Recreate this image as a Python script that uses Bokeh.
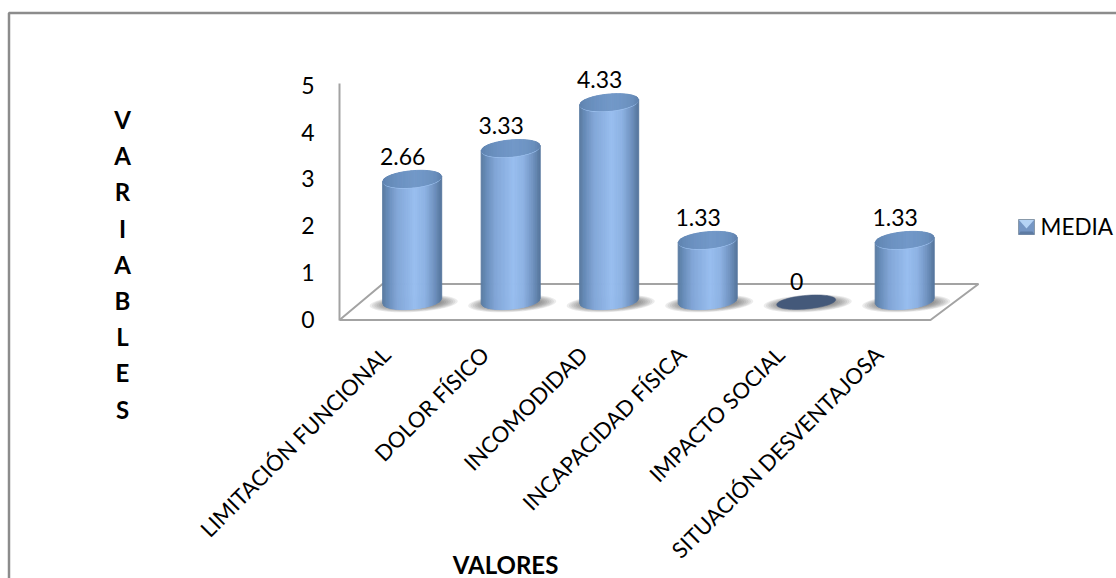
import numpy as np
from bokeh.core.properties import value
from bokeh.embed import file_html
from bokeh.models import FixedTicker, Range1d
from bokeh.plotting import figure
from bokeh.resources import INLINE

# Chart content
categories = ["LIMITACIÓN FUNCIONAL", "DOLOR FÍSICO", "INCOMODIDAD",
              "INCAPACIDAD FÍSICA", "IMPACTO SOCIAL", "SITUACIÓN DESVENTAJOSA"]
media = [2.66, 3.33, 4.33, 1.33, 0, 1.33]
value_labels = ["2.66", "3.33", "4.33", "1.33", "0", "1.33"]
y_ticks = [0, 1, 2, 3, 4, 5]
y_title = list("VARIABLES")
x_title = "VALORES"
series_name = "MEDIA"

# Page geometry of the plotting scales
W, H = 1116, 578
FIRST_X, STEP_X = 411.7, 98.5     # centre of first cylinder, cylinder spacing
ZERO_Y, UNIT_Y = 318.5, 46.7      # pixel row of value 0, pixels per unit


def X(px):
    return (np.asarray(px, dtype=float) - FIRST_X) / STEP_X


def Y(py):
    return (ZERO_Y - np.asarray(py, dtype=float)) / UNIT_Y


FONT = value("Lato")
GRID = "#a3a3a3"
INK = "#000000"

p = figure(width=W, height=H, output_backend="svg", toolbar_location=None,
           x_range=Range1d(float(X(0)), float(X(W))),
           y_range=Range1d(float(Y(H)), float(Y(0))),
           min_border=0, outline_line_color=None, background_fill_color="white",
           border_fill_color="white")
p.grid.visible = False
p.xaxis.visible = False

# Value axis, placed inside the frame on the floor's left corner
yaxis = p.yaxis[0]
yaxis.fixed_location = float(X(339))
yaxis.ticker = FixedTicker(ticks=y_ticks)
yaxis.bounds = (-0.03, 5.04)
yaxis.axis_line_color = GRID
yaxis.axis_line_width = 2
yaxis.major_tick_line_color = None
yaxis.minor_tick_line_color = None
yaxis.major_label_standoff = 19
yaxis.major_label_text_font = "Lato"
yaxis.major_label_text_font_size = "23px"
yaxis.major_label_text_color = INK

# Outer chart border: only top and left edges are in view
p.line(X([8.5, 8.5, W]), Y([H, 12.5, 12.5]), line_color="#8c8c8c", line_width=2.5)

# Perspective floor
p.line(X([339, 382, 978, 930, 339]), Y([319.5, 283.5, 283.5, 319.5, 319.5]),
       line_color=GRID, line_width=2)

HALF_W = 29.5         # cylinder half width in px
HALF_D = 8.2          # ellipse half depth in px
TILT = 0.085          # rise of the ellipse towards the right
BASE_Y = 300.5        # pixel row of the cylinder base centre
BAR_UNIT = 45.9       # pixels per unit at the cylinders' depth
SLICES = 44

STOPS_T = [-1.0, -0.82, -0.5, 0.1, 0.45, 0.8, 1.0]
BODY = ["#587a9f", "#678bb8", "#82a6d7", "#98beef", "#8db2e3", "#6d8fbc", "#56769c"]
CAP = ["#5f83af", "#6489b6", "#6c91c0", "#7298c8", "#7096c5", "#6a8fbd", "#5f82ad"]


def shade(stops, t):
    channels = []
    for k in (1, 3, 5):
        vals = [int(c[k:k + 2], 16) for c in stops]
        channels.append(int(round(np.interp(t, STOPS_T, vals))))
    return "#%02x%02x%02x" % tuple(channels)


def half_depth(t):
    return HALF_D * np.sqrt(np.clip(1 - np.square(t), 0, 1))


def ellipse_outline(cx, cy, a, b, tilt=TILT):
    th = np.linspace(0, 2 * np.pi, 73)
    xs = cx + a * np.cos(th)
    ys = cy + b * np.sin(th) - tilt * a * np.cos(th)
    return X(xs), Y(ys)


def draw_slices(cx, top_y_edge, bottom_y_edge, stops):
    edges = np.linspace(-1, 1, SLICES + 1)
    xs, ys, colors = [], [], []
    for t0, t1 in zip(edges[:-1], edges[1:]):
        px = [cx + HALF_W * t0, cx + HALF_W * t1, cx + HALF_W * t1, cx + HALF_W * t0]
        py = [top_y_edge(t0), top_y_edge(t1), bottom_y_edge(t1), bottom_y_edge(t0)]
        xs.append(X(px))
        ys.append(Y(py))
        colors.append(shade(stops, (t0 + t1) / 2))
    p.patches(xs, ys, fill_color=colors, line_color=colors, line_width=1)


# Contact shadows first, so that they sit under every cylinder
for i in range(len(media)):
    cx = FIRST_X + STEP_X * i
    for a, b in zip(np.linspace(44, 28, 8), np.linspace(8.5, 4.5, 8)):
        sx, sy = ellipse_outline(cx + 1.5, BASE_Y + 2.5, a, b, tilt=0.05)
        p.patch(sx, sy, fill_color="#555555", fill_alpha=0.11, line_color=None)

# Cylinders
for i, v in enumerate(media):
    cx = FIRST_X + STEP_X * i
    top_y = BASE_Y - BAR_UNIT * v
    if v == 0:
        ex, ey = ellipse_outline(cx, BASE_Y + 1.2, HALF_W, 6.8)
        p.patch(ex, ey, fill_color="#44597a", line_color="#44597a", line_width=0.5)
        continue

    def rise(t, a=HALF_W):
        return TILT * a * t

    draw_slices(cx,
                lambda t: top_y - rise(t),
                lambda t: BASE_Y - rise(t) + half_depth(t),
                BODY)
    # Light rim along the front of the cap, then the cap itself
    rx, ry = ellipse_outline(cx, top_y + 1.3, HALF_W - 0.5, HALF_D)
    p.patch(rx, ry, fill_color="#9cc0ee", line_color=None)
    draw_slices(cx,
                lambda t: top_y - rise(t) - half_depth(t),
                lambda t: top_y - rise(t) + half_depth(t),
                CAP)

# Value labels above the cylinders; the zero label sits closer to its flat disc
p.text(x=[i + X(FIRST_X - 9.5) for i in range(len(media))],
       y=[Y(BASE_Y - BAR_UNIT * v - (22.5 if v else 19.5)) for v in media],
       text=value_labels, text_font=FONT, text_font_size="23px",
       text_color=INK, text_align="center", text_baseline="middle")

# Category labels, rotated and ending under each cylinder
p.text(x=[float(X(FIRST_X - 26 + STEP_X * i)) for i in range(len(categories))],
       y=[float(Y(350))] * len(categories),
       text=categories, text_font=FONT, text_font_size="22px",
       text_color=INK, text_align="right", text_baseline="middle",
       angle=np.pi / 4)

# Axis titles
title_rows = [119 + 36.2 * k for k in range(len(y_title))]
p.text(x=[float(X(122))] * len(y_title), y=[float(Y(r)) for r in title_rows],
       text=y_title, text_font=FONT, text_font_size="24px", text_font_style="bold",
       text_color=INK, text_align="center", text_baseline="middle")
p.text(x=[float(X(505))], y=[float(Y(564))], text=[x_title], text_font=FONT,
       text_font_size="24px", text_font_style="bold", text_color=INK,
       text_align="center", text_baseline="middle")

# Legend entry: bevelled swatch and series name
p.quad(left=[float(X(1018))], right=[float(X(1034))], top=[float(Y(219))], bottom=[float(Y(234))],
       fill_color="#7596c4", line_color="#8899aa", line_width=1)
p.patch(X([1018.5, 1033.5, 1026]), Y([219.5, 219.5, 228]), fill_color="#b5d3f5", line_color=None)
p.patch(X([1020, 1032, 1034, 1018]), Y([231, 231, 234, 234]), fill_color="#5d7ba3", line_color=None)
p.text(x=[float(X(1040))], y=[float(Y(225.5))], text=[series_name], text_font=FONT,
       text_font_size="22.5px", text_color=INK, text_align="left", text_baseline="middle")

open("out.html", "w").write(file_html(p, INLINE))
